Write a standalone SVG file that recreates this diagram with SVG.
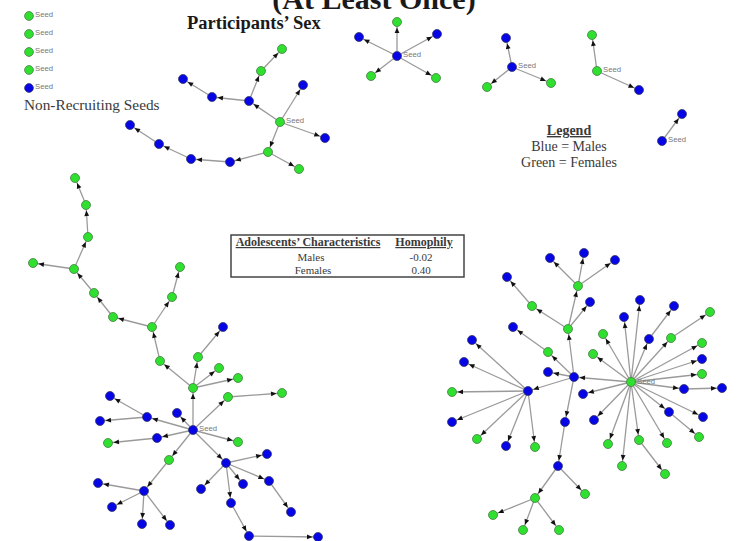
<svg xmlns="http://www.w3.org/2000/svg" width="740" height="541" viewBox="0 0 740 541">
  <style>
    .bg { fill: #ffffff; }
    .e line, line.e { stroke: #9a9a9a; stroke-width: 1.3; marker-end: url(#ah); }
    .m { fill: #0505e6; stroke: #3a3a6a; stroke-width: 0.8; }
    .f { fill: #2fe02f; stroke: #4a7a4a; stroke-width: 0.8; }
    .lbl { font-family: "Liberation Sans", Arial, sans-serif; font-size: 7.7px; fill: #777777; }
    .title { font-family: "Liberation Serif", "Times New Roman", serif; font-weight: bold; fill: #1a1a1a; }
    .serif { font-family: "Liberation Serif", "Times New Roman", serif; fill: #3a3a3a; }
    .ul { text-decoration: underline; font-weight: bold; }
  </style>
  <defs>
    <marker id="ah" markerUnits="userSpaceOnUse" markerWidth="12" markerHeight="6" refX="11" refY="3" orient="auto" overflow="visible">
      <path d="M0,0.6 L5.5,3 L0,5.4 Z" fill="#111111"/>
    </marker>
  </defs>

  <rect class="bg" x="0" y="0" width="740" height="541"/>

  <!-- headings -->
  <text class="title" x="374" y="9" font-size="30" text-anchor="middle">(At Least Once)</text>
  <text class="title" x="187" y="29" font-size="18.5">Participants’ Sex</text>
  <text class="serif" x="24" y="110" font-size="15.3">Non-Recruiting Seeds</text>

  <!-- legend -->
  <g id="legend" class="serif" font-size="14" text-anchor="middle">
    <text class="ul" x="569" y="135">Legend</text>
    <text x="569" y="151">Blue = Males</text>
    <text x="569" y="167">Green = Females</text>
  </g>

  <!-- homophily table -->
  <g id="homophily-table">
    <rect x="231" y="235" width="233" height="42" fill="#ffffff" stroke="#444444" stroke-width="1.5"/>
    <g class="serif" text-anchor="middle" fill="#222222">
      <text class="ul" x="308" y="246" font-size="12">Adolescents’ Characteristics</text>
      <text class="ul" x="424" y="246" font-size="12">Homophily</text>
      <text x="311" y="261" font-size="11">Males</text>
      <text x="421" y="261" font-size="11">-0.02</text>
      <text x="313" y="273.5" font-size="11">Females</text>
      <text x="421" y="273.5" font-size="11">0.40</text>
    </g>
  </g>

  <!-- recruitment links -->
  <g id="connectors" class="e">
    <!-- cluster A -->
    <line x1="280" y1="122" x2="303" y2="85"/>
    <line x1="280" y1="122" x2="325" y2="138"/>
    <line x1="280" y1="122" x2="268" y2="152"/>
    <line x1="280" y1="122" x2="249" y2="101"/>
    <line x1="249" y1="101" x2="261" y2="71"/>
    <line x1="261" y1="71" x2="282" y2="49"/>
    <line x1="249" y1="101" x2="212" y2="97"/>
    <line x1="212" y1="97" x2="183" y2="79"/>
    <line x1="268" y1="152" x2="299" y2="169"/>
    <line x1="268" y1="152" x2="230" y2="162"/>
    <line x1="230" y1="162" x2="191" y2="159"/>
    <line x1="191" y1="159" x2="159" y2="144"/>
    <line x1="159" y1="144" x2="130" y2="125"/>
    <!-- cluster B -->
    <line x1="397" y1="56" x2="397" y2="22"/>
    <line x1="397" y1="56" x2="359" y2="37"/>
    <line x1="397" y1="56" x2="437" y2="34"/>
    <line x1="397" y1="56" x2="371" y2="76"/>
    <line x1="397" y1="56" x2="436" y2="78"/>
    <!-- cluster C -->
    <line x1="512" y1="67" x2="506" y2="38"/>
    <line x1="512" y1="67" x2="487" y2="87"/>
    <line x1="512" y1="67" x2="551" y2="83"/>
    <!-- cluster D -->
    <line x1="597" y1="71" x2="592" y2="35"/>
    <line x1="597" y1="71" x2="639" y2="90"/>
    <!-- cluster E -->
    <line x1="662" y1="141" x2="682" y2="114"/>
    <!-- cluster F -->
    <line x1="193" y1="430" x2="193" y2="388"/>
    <line x1="193" y1="388" x2="160" y2="361"/>
    <line x1="160" y1="361" x2="152" y2="327"/>
    <line x1="152" y1="327" x2="113" y2="317"/>
    <line x1="113" y1="317" x2="94" y2="293"/>
    <line x1="94" y1="293" x2="74" y2="269"/>
    <line x1="74" y1="269" x2="33" y2="263"/>
    <line x1="74" y1="269" x2="88" y2="237"/>
    <line x1="88" y1="237" x2="86" y2="205"/>
    <line x1="86" y1="205" x2="75" y2="178"/>
    <line x1="152" y1="327" x2="172" y2="297"/>
    <line x1="172" y1="297" x2="180" y2="267"/>
    <line x1="193" y1="388" x2="198" y2="357"/>
    <line x1="198" y1="357" x2="223" y2="327"/>
    <line x1="193" y1="388" x2="219" y2="368"/>
    <line x1="193" y1="388" x2="238" y2="378"/>
    <line x1="193" y1="430" x2="228" y2="397"/>
    <line x1="228" y1="397" x2="282" y2="393"/>
    <line x1="193" y1="430" x2="147" y2="417"/>
    <line x1="147" y1="417" x2="110" y2="396"/>
    <line x1="147" y1="417" x2="100" y2="421"/>
    <line x1="193" y1="430" x2="177" y2="413"/>
    <line x1="193" y1="430" x2="157" y2="438"/>
    <line x1="157" y1="438" x2="108" y2="443"/>
    <line x1="193" y1="430" x2="238" y2="442"/>
    <line x1="193" y1="430" x2="169" y2="460"/>
    <line x1="169" y1="460" x2="144" y2="491"/>
    <line x1="144" y1="491" x2="98" y2="483"/>
    <line x1="144" y1="491" x2="112" y2="507"/>
    <line x1="144" y1="491" x2="142" y2="524"/>
    <line x1="144" y1="491" x2="170" y2="525"/>
    <line x1="193" y1="430" x2="226" y2="463"/>
    <line x1="226" y1="463" x2="267" y2="454"/>
    <line x1="226" y1="463" x2="243" y2="484"/>
    <line x1="226" y1="463" x2="269" y2="481"/>
    <line x1="226" y1="463" x2="201" y2="489"/>
    <line x1="226" y1="463" x2="231" y2="503"/>
    <line x1="269" y1="481" x2="291" y2="512"/>
    <line x1="231" y1="503" x2="249" y2="536"/>
    <line x1="249" y1="536" x2="318" y2="537"/>
    <!-- cluster G -->
    <line x1="631" y1="382" x2="574" y2="377"/>
    <line x1="574" y1="377" x2="548" y2="372"/>
    <line x1="574" y1="377" x2="568" y2="329"/>
    <line x1="568" y1="329" x2="578" y2="286"/>
    <line x1="578" y1="286" x2="550" y2="258"/>
    <line x1="578" y1="286" x2="584" y2="253"/>
    <line x1="578" y1="286" x2="615" y2="260"/>
    <line x1="568" y1="329" x2="590" y2="302"/>
    <line x1="568" y1="329" x2="532" y2="306"/>
    <line x1="532" y1="306" x2="507" y2="277"/>
    <line x1="574" y1="377" x2="548" y2="352"/>
    <line x1="548" y1="352" x2="513" y2="327"/>
    <line x1="574" y1="377" x2="528" y2="391"/>
    <line x1="528" y1="391" x2="472" y2="340"/>
    <line x1="528" y1="391" x2="464" y2="362"/>
    <line x1="528" y1="391" x2="452" y2="392"/>
    <line x1="528" y1="391" x2="452" y2="422"/>
    <line x1="528" y1="391" x2="477" y2="439"/>
    <line x1="528" y1="391" x2="506" y2="446"/>
    <line x1="528" y1="391" x2="535" y2="447"/>
    <line x1="574" y1="377" x2="565" y2="422"/>
    <line x1="565" y1="422" x2="558" y2="466"/>
    <line x1="558" y1="466" x2="585" y2="494"/>
    <line x1="558" y1="466" x2="535" y2="498"/>
    <line x1="535" y1="498" x2="493" y2="515"/>
    <line x1="535" y1="498" x2="523" y2="530"/>
    <line x1="535" y1="498" x2="559" y2="530"/>
    <line x1="631" y1="382" x2="640" y2="300"/>
    <line x1="631" y1="382" x2="624" y2="317"/>
    <line x1="631" y1="382" x2="649" y2="339"/>
    <line x1="649" y1="339" x2="674" y2="306"/>
    <line x1="631" y1="382" x2="671" y2="338"/>
    <line x1="671" y1="338" x2="710" y2="312"/>
    <line x1="631" y1="382" x2="603" y2="334"/>
    <line x1="631" y1="382" x2="702" y2="343"/>
    <line x1="631" y1="382" x2="593" y2="354"/>
    <line x1="631" y1="382" x2="702" y2="359"/>
    <line x1="631" y1="382" x2="702" y2="374"/>
    <line x1="631" y1="382" x2="684" y2="389"/>
    <line x1="684" y1="389" x2="722" y2="388"/>
    <line x1="631" y1="382" x2="583" y2="394"/>
    <line x1="631" y1="382" x2="594" y2="420"/>
    <line x1="631" y1="382" x2="608" y2="444"/>
    <line x1="631" y1="382" x2="622" y2="466"/>
    <line x1="631" y1="382" x2="639" y2="440"/>
    <line x1="639" y1="440" x2="665" y2="474"/>
    <line x1="631" y1="382" x2="667" y2="443"/>
    <line x1="631" y1="382" x2="669" y2="412"/>
    <line x1="669" y1="412" x2="699" y2="437"/>
    <line x1="631" y1="382" x2="703" y2="417"/>
  </g>

  <!-- non-recruiting seeds -->
  <g id="s1"><circle class="f" cx="29" cy="16" r="4.4"/><text class="lbl" x="35" y="17.3">Seed</text></g>
  <g id="s2"><circle class="f" cx="29" cy="34" r="4.4"/><text class="lbl" x="35" y="35.3">Seed</text></g>
  <g id="s3"><circle class="f" cx="29" cy="52" r="4.4"/><text class="lbl" x="35" y="53.3">Seed</text></g>
  <g id="s4"><circle class="f" cx="29" cy="70" r="4.4"/><text class="lbl" x="35" y="71.3">Seed</text></g>
  <g id="s5"><circle class="m" cx="29" cy="88" r="4.4"/><text class="lbl" x="35" y="89.3">Seed</text></g>

  <!-- cluster A -->
  <g id="a0"><circle class="f" cx="280" cy="122" r="4.5"/><text class="lbl" x="286" y="123">Seed</text></g>
  <g id="a1"><circle class="m" cx="303" cy="85" r="4.5"/></g>
  <g id="a2"><circle class="m" cx="325" cy="138" r="4.5"/></g>
  <g id="a3"><circle class="f" cx="268" cy="152" r="4.5"/></g>
  <g id="a4"><circle class="f" cx="299" cy="169" r="4.5"/></g>
  <g id="a5"><circle class="m" cx="249" cy="101" r="4.5"/></g>
  <g id="a6"><circle class="f" cx="261" cy="71" r="4.5"/></g>
  <g id="a7"><circle class="f" cx="282" cy="49" r="4.5"/></g>
  <g id="a8"><circle class="m" cx="212" cy="97" r="4.5"/></g>
  <g id="a9"><circle class="m" cx="183" cy="79" r="4.5"/></g>
  <g id="a10"><circle class="m" cx="230" cy="162" r="4.5"/></g>
  <g id="a11"><circle class="m" cx="191" cy="159" r="4.5"/></g>
  <g id="a12"><circle class="m" cx="159" cy="144" r="4.5"/></g>
  <g id="a13"><circle class="m" cx="130" cy="125" r="4.5"/></g>

  <!-- cluster B -->
  <g id="b0"><circle class="m" cx="397" cy="56" r="4.5"/><text class="lbl" x="403" y="57">Seed</text></g>
  <g id="b1"><circle class="f" cx="397" cy="22" r="4.5"/></g>
  <g id="b2"><circle class="m" cx="359" cy="37" r="4.5"/></g>
  <g id="b3"><circle class="m" cx="437" cy="34" r="4.5"/></g>
  <g id="b4"><circle class="f" cx="371" cy="76" r="4.5"/></g>
  <g id="b5"><circle class="f" cx="436" cy="78" r="4.5"/></g>

  <!-- cluster C -->
  <g id="c0"><circle class="m" cx="512" cy="67" r="4.5"/><text class="lbl" x="518" y="68">Seed</text></g>
  <g id="c1"><circle class="m" cx="506" cy="38" r="4.5"/></g>
  <g id="c2"><circle class="f" cx="487" cy="87" r="4.5"/></g>
  <g id="c3"><circle class="f" cx="551" cy="83" r="4.5"/></g>

  <!-- cluster D -->
  <g id="d0"><circle class="f" cx="597" cy="71" r="4.5"/><text class="lbl" x="603" y="72">Seed</text></g>
  <g id="d1"><circle class="f" cx="592" cy="35" r="4.5"/></g>
  <g id="d2"><circle class="m" cx="639" cy="90" r="4.5"/></g>

  <!-- cluster E -->
  <g id="e0"><circle class="m" cx="662" cy="141" r="4.5"/><text class="lbl" x="668" y="142">Seed</text></g>
  <g id="e1"><circle class="m" cx="682" cy="114" r="4.5"/></g>

  <!-- cluster F -->
  <g id="f0"><circle class="m" cx="193" cy="430" r="4.5"/><text class="lbl" x="199" y="431">Seed</text></g>
  <g id="f1"><circle class="f" cx="193" cy="388" r="4.5"/></g>
  <g id="f2"><circle class="f" cx="160" cy="361" r="4.5"/></g>
  <g id="f3"><circle class="f" cx="152" cy="327" r="4.5"/></g>
  <g id="f4"><circle class="f" cx="113" cy="317" r="4.5"/></g>
  <g id="f5"><circle class="f" cx="94" cy="293" r="4.5"/></g>
  <g id="f6"><circle class="f" cx="74" cy="269" r="4.5"/></g>
  <g id="f7"><circle class="f" cx="33" cy="263" r="4.5"/></g>
  <g id="f8"><circle class="f" cx="88" cy="237" r="4.5"/></g>
  <g id="f9"><circle class="f" cx="86" cy="205" r="4.5"/></g>
  <g id="f10"><circle class="f" cx="75" cy="178" r="4.5"/></g>
  <g id="f11"><circle class="f" cx="172" cy="297" r="4.5"/></g>
  <g id="f12"><circle class="f" cx="180" cy="267" r="4.5"/></g>
  <g id="f13"><circle class="f" cx="198" cy="357" r="4.5"/></g>
  <g id="f14"><circle class="m" cx="223" cy="327" r="4.5"/></g>
  <g id="f15"><circle class="f" cx="219" cy="368" r="4.5"/></g>
  <g id="f16"><circle class="f" cx="238" cy="378" r="4.5"/></g>
  <g id="f17"><circle class="f" cx="228" cy="397" r="4.5"/></g>
  <g id="f18"><circle class="f" cx="282" cy="393" r="4.5"/></g>
  <g id="f19"><circle class="m" cx="147" cy="417" r="4.5"/></g>
  <g id="f20"><circle class="m" cx="110" cy="396" r="4.5"/></g>
  <g id="f21"><circle class="m" cx="100" cy="421" r="4.5"/></g>
  <g id="f22"><circle class="m" cx="177" cy="413" r="4.5"/></g>
  <g id="f23"><circle class="m" cx="157" cy="438" r="4.5"/></g>
  <g id="f24"><circle class="f" cx="108" cy="443" r="4.5"/></g>
  <g id="f25"><circle class="f" cx="238" cy="442" r="4.5"/></g>
  <g id="f26"><circle class="f" cx="169" cy="460" r="4.5"/></g>
  <g id="f27"><circle class="m" cx="144" cy="491" r="4.5"/></g>
  <g id="f28"><circle class="m" cx="98" cy="483" r="4.5"/></g>
  <g id="f29"><circle class="m" cx="112" cy="507" r="4.5"/></g>
  <g id="f30"><circle class="m" cx="142" cy="524" r="4.5"/></g>
  <g id="f31"><circle class="m" cx="170" cy="525" r="4.5"/></g>
  <g id="f32"><circle class="m" cx="226" cy="463" r="4.5"/></g>
  <g id="f33"><circle class="m" cx="267" cy="454" r="4.5"/></g>
  <g id="f34"><circle class="m" cx="243" cy="484" r="4.5"/></g>
  <g id="f35"><circle class="m" cx="269" cy="481" r="4.5"/></g>
  <g id="f36"><circle class="m" cx="201" cy="489" r="4.5"/></g>
  <g id="f37"><circle class="m" cx="231" cy="503" r="4.5"/></g>
  <g id="f38"><circle class="m" cx="291" cy="512" r="4.5"/></g>
  <g id="f39"><circle class="m" cx="249" cy="536" r="4.5"/></g>
  <g id="f40"><circle class="m" cx="318" cy="537" r="4.5"/></g>

  <!-- cluster G -->
  <g id="g1"><circle class="m" cx="574" cy="377" r="4.5"/></g>
  <g id="g2"><circle class="m" cx="548" cy="372" r="4.5"/></g>
  <g id="g3"><circle class="f" cx="568" cy="329" r="4.5"/></g>
  <g id="g4"><circle class="f" cx="578" cy="286" r="4.5"/></g>
  <g id="g5"><circle class="m" cx="550" cy="258" r="4.5"/></g>
  <g id="g6"><circle class="m" cx="584" cy="253" r="4.5"/></g>
  <g id="g7"><circle class="m" cx="615" cy="260" r="4.5"/></g>
  <g id="g8"><circle class="m" cx="590" cy="302" r="4.5"/></g>
  <g id="g9"><circle class="f" cx="532" cy="306" r="4.5"/></g>
  <g id="g10"><circle class="m" cx="507" cy="277" r="4.5"/></g>
  <g id="g11"><circle class="f" cx="548" cy="352" r="4.5"/></g>
  <g id="g12"><circle class="m" cx="513" cy="327" r="4.5"/></g>
  <g id="g13"><circle class="m" cx="528" cy="391" r="4.5"/></g>
  <g id="g14"><circle class="m" cx="472" cy="340" r="4.5"/></g>
  <g id="g15"><circle class="m" cx="464" cy="362" r="4.5"/></g>
  <g id="g16"><circle class="f" cx="452" cy="392" r="4.5"/></g>
  <g id="g17"><circle class="m" cx="452" cy="422" r="4.5"/></g>
  <g id="g18"><circle class="f" cx="477" cy="439" r="4.5"/></g>
  <g id="g19"><circle class="m" cx="506" cy="446" r="4.5"/></g>
  <g id="g20"><circle class="f" cx="535" cy="447" r="4.5"/></g>
  <g id="g21"><circle class="m" cx="565" cy="422" r="4.5"/></g>
  <g id="g22"><circle class="m" cx="558" cy="466" r="4.5"/></g>
  <g id="g23"><circle class="f" cx="585" cy="494" r="4.5"/></g>
  <g id="g24"><circle class="f" cx="535" cy="498" r="4.5"/></g>
  <g id="g25"><circle class="f" cx="493" cy="515" r="4.5"/></g>
  <g id="g26"><circle class="f" cx="523" cy="530" r="4.5"/></g>
  <g id="g27"><circle class="f" cx="559" cy="530" r="4.5"/></g>
  <g id="g28"><circle class="m" cx="640" cy="300" r="4.5"/></g>
  <g id="g29"><circle class="m" cx="624" cy="317" r="4.5"/></g>
  <g id="g30"><circle class="m" cx="674" cy="306" r="4.5"/></g>
  <g id="g31"><circle class="f" cx="710" cy="312" r="4.5"/></g>
  <g id="g32"><circle class="f" cx="603" cy="334" r="4.5"/></g>
  <g id="g33"><circle class="m" cx="649" cy="339" r="4.5"/></g>
  <g id="g34"><circle class="f" cx="671" cy="338" r="4.5"/></g>
  <g id="g35"><circle class="f" cx="702" cy="343" r="4.5"/></g>
  <g id="g36"><circle class="f" cx="593" cy="354" r="4.5"/></g>
  <g id="g37"><circle class="m" cx="702" cy="359" r="4.5"/></g>
  <g id="g38"><circle class="f" cx="702" cy="374" r="4.5"/></g>
  <g id="g39"><circle class="m" cx="684" cy="389" r="4.5"/></g>
  <g id="g40"><circle class="m" cx="722" cy="388" r="4.5"/></g>
  <g id="g41"><circle class="m" cx="583" cy="394" r="4.5"/></g>
  <g id="g42"><circle class="m" cx="594" cy="420" r="4.5"/></g>
  <g id="g43"><circle class="f" cx="608" cy="444" r="4.5"/></g>
  <g id="g44"><circle class="f" cx="622" cy="466" r="4.5"/></g>
  <g id="g45"><circle class="f" cx="639" cy="440" r="4.5"/></g>
  <g id="g46"><circle class="f" cx="665" cy="474" r="4.5"/></g>
  <g id="g47"><circle class="f" cx="667" cy="443" r="4.5"/></g>
  <g id="g48"><circle class="m" cx="669" cy="412" r="4.5"/></g>
  <g id="g49"><circle class="f" cx="699" cy="437" r="4.5"/></g>
  <g id="g50"><circle class="m" cx="703" cy="417" r="4.5"/></g>
  <g id="g0"><circle class="f" cx="631" cy="382" r="4.5"/><text class="lbl" x="637" y="384">Seed</text></g>
</svg>
